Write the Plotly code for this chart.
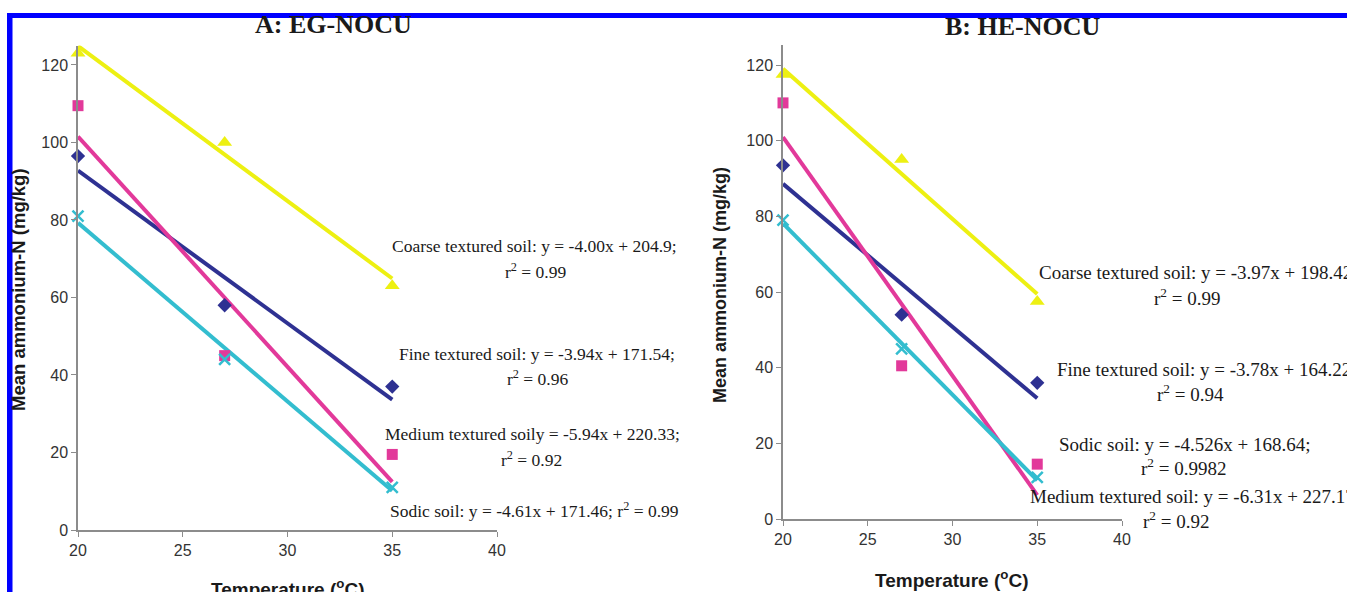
import plotly.graph_objects as go

W, H = 1347, 592

# ---------------- data ----------------
temps = [20, 27, 35]
soils = ["Fine textured soil", "Medium textured soil", "Coarse textured soil", "Sodic soil"]

# Panel A: EG-NOCU (mean ammonium-N, mg/kg)
a_fine = [96.5, 58, 37]
a_medium = [109.5, 45, 19.5]
a_coarse = [123, 100, 63]
a_sodic = [81, 44, 11]
a_slopes = [-3.94, -5.94, -4.00, -4.61]
a_intercepts = [171.54, 220.33, 204.9, 171.46]

# Panel B: HE-NOCU
b_fine = [93.5, 54, 36]
b_medium = [110, 40.5, 14.5]
b_coarse = [117.5, 95, 57.5]
b_sodic = [79, 45, 11]
b_slopes = [-3.78, -6.31, -3.97, -4.526]
b_intercepts = [164.22, 227.17, 198.42, 168.64]

fit_x = [20, 35]
x_ticks = [20, 25, 30, 35, 40]
y_ticks = [0, 20, 40, 60, 80, 100, 120]

a_eq_text = [
    "Coarse textured soil: y = -4.00x + 204.9;", "r<sup>2</sup> = 0.99",
    "Fine textured soil: y = -3.94x + 171.54;", "r<sup>2</sup> = 0.96",
    "Medium textured soily = -5.94x + 220.33;", "r<sup>2</sup> = 0.92",
    "Sodic soil: y = -4.61x + 171.46; r<sup>2</sup> = 0.99",
]
b_eq_text = [
    "Coarse textured soil: y = -3.97x + 198.42", "r<sup>2</sup> = 0.99",
    "Fine textured soil: y = -3.78x + 164.22", "r<sup>2</sup> = 0.94",
    "Sodic soil: y = -4.526x + 168.64;", "r<sup>2</sup> = 0.9982",
    "Medium textured soil: y = -6.31x + 227.17", "r<sup>2</sup> = 0.92",
]

# ---------------- style ----------------
colors = ["#2E3192", "#E2399A", "#EDF012", "#33BDCF"]
symbols = ["diamond", "square", "triangle-up", "x-thin"]
msizes = [11, 11, 13, 11]

def px(x):
    return x / W

def py(y):
    return 1 - y / H

fig = go.Figure()

panels = [
    ("x", "y", [a_fine, a_medium, a_coarse, a_sodic], a_slopes, a_intercepts),
    ("x2", "y2", [b_fine, b_medium, b_coarse, b_sodic], b_slopes, b_intercepts),
]
for xa, ya, series, slopes, inters in panels:
    for i, name in enumerate(soils):
        fy = [slopes[i] * t + inters[i] for t in fit_x]
        fig.add_trace(go.Scatter(
            x=fit_x, y=fy, mode="lines", xaxis=xa, yaxis=ya,
            line=dict(color=colors[i], width=4), showlegend=False,
            cliponaxis=False, hoverinfo="skip"))
    for i, name in enumerate(soils):
        mk = dict(color=colors[i], size=msizes[i], symbol=symbols[i])
        if symbols[i] == "x-thin":
            mk["line"] = dict(color=colors[i], width=2.5)
        fig.add_trace(go.Scatter(
            x=temps, y=series[i], mode="markers", name=name, xaxis=xa, yaxis=ya,
            marker=mk, showlegend=False, cliponaxis=False))

tickfont = dict(family="Arial, Liberation Sans, sans-serif", size=16, color="#333333")
axis_common = dict(showgrid=False, zeroline=False, showline=True, linecolor="#8c8c8c",
                   linewidth=1.5, ticks="outside", ticklen=5, tickcolor="#8c8c8c",
                   tickfont=tickfont, automargin=False)

fig.update_layout(
    width=W, height=H,
    margin=dict(l=0, r=0, t=0, b=0, autoexpand=False),
    paper_bgcolor="white", plot_bgcolor="white",
    xaxis=dict(domain=[px(78), px(497)], range=[20, 40], tickvals=x_ticks,
               anchor="y", **axis_common),
    yaxis=dict(domain=[py(530), py(45.6)], range=[0, 125], tickvals=y_ticks,
               anchor="x", **axis_common),
    xaxis2=dict(domain=[px(783), px(1122)], range=[20, 40], tickvals=x_ticks,
                anchor="y2", **axis_common),
    yaxis2=dict(domain=[py(519), py(45)], range=[0, 125.3], tickvals=y_ticks,
                anchor="x2", **axis_common),
)

serif = "Liberation Serif, Times New Roman, serif"
sans = "Arial, Liberation Sans, sans-serif"
ann = []

def add(text, x, y, size, family, bold=False, xanchor="center", angle=0, color="#1a1a1a"):
    if bold:
        text = "<b>" + text + "</b>"
    ann.append(dict(text=text, x=px(x), y=py(y), xref="paper", yref="paper",
                    xanchor=xanchor, yanchor="middle", showarrow=False, textangle=angle,
                    font=dict(family=family, size=size, color=color)))

# titles
add("A: EG-NOCU", 333, 25, 26, serif, bold=True)
add("B: HE-NOCU", 1023, 26, 26, serif, bold=True)
# axis titles
add("Mean ammonium-N (mg/kg)", 18, 290, 18.5, sans, bold=True, angle=-90)
add("Mean ammonium-N (mg/kg)", 720, 285, 18, sans, bold=True, angle=-90)
add("Temperature (<sup>o</sup>C)", 287, 588, 19, sans, bold=True)
add("Temperature (<sup>o</sup>C)", 951, 579, 19, sans, bold=True)

# panel A equations
a_pos = [(534, 246), (535, 271), (537, 354), (537, 378), (532, 434), (531, 459), (534, 510)]
for t, (x, y) in zip(a_eq_text, a_pos):
    add(t, x, y, 17.5, serif)

# panel B equations
b_pos = [(1037, 272, "left"), (1187, 297, "center"), (1055, 369, "left"), (1190, 393, "center"),
         (1185, 444, "center"), (1183, 467, "center"), (1028, 496, "left"), (1176, 520, "center")]
for t, (x, y, xa) in zip(b_eq_text, b_pos):
    add(t, x, y, 19, serif, xanchor=xa)

fig.update_layout(annotations=ann)

# blue frame (top bar and left bar)
fig.update_layout(shapes=[
    dict(type="rect", xref="paper", yref="paper", x0=px(7), x1=1.01, y0=py(18), y1=py(13),
         fillcolor="#0000FF", line=dict(width=0), layer="above"),
    dict(type="rect", xref="paper", yref="paper", x0=px(7), x1=px(12.5), y0=-0.01, y1=py(13),
         fillcolor="#0000FF", line=dict(width=0), layer="above"),
])

fig.write_html(
    "out.html",
    config={"displayModeBar": False},
    post_script="document.body.style.margin='0';document.body.style.overflow='hidden';",
)
